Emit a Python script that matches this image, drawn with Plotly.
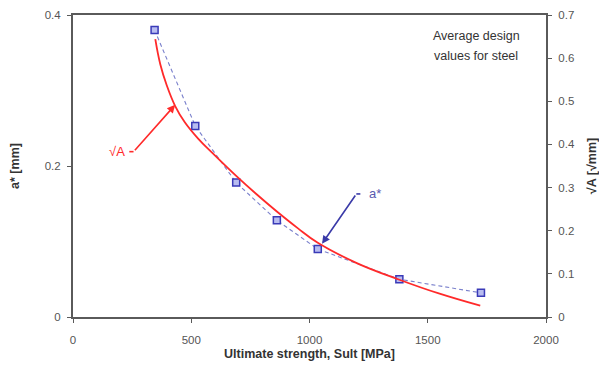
import plotly.graph_objects as go

# Average design values for steel
sult_points = [345, 517, 690, 862, 1035, 1380, 1725]        # MPa
a_star = [0.380, 0.253, 0.178, 0.128, 0.090, 0.050, 0.032]    # mm

# sqrt(A) curve read along the ultimate strength axis
sult_curve = [348, 369, 397, 432, 472, 530, 588, 690, 775, 862, 950, 1035, 1200, 1380, 1550, 1722]
sqrt_a = [0.644, 0.586, 0.536, 0.489, 0.452, 0.413, 0.381, 0.327, 0.285, 0.2445,
          0.206, 0.172, 0.125, 0.0864, 0.054, 0.0262]

x_ticks = [0, 500, 1000, 1500, 2000]
y1_ticks = [0, 0.2, 0.4]
y2_ticks = [0, 0.1, 0.2, 0.3, 0.4, 0.5, 0.6, 0.7]

FONT = "Liberation Sans, Arial, sans-serif"
AXIS = "#5a5a5a"
RED = "#ff2a2a"
BLUE = "#3a3aa8"

fig = go.Figure()

fig.add_trace(go.Scatter(
    x=sult_curve, y=sqrt_a, yaxis="y2", mode="lines",
    line=dict(color=RED, width=1.8, shape="spline", smoothing=1.2),
    name="√A", showlegend=False,
))

fig.add_trace(go.Scatter(
    x=sult_points, y=a_star, mode="lines+markers",
    line=dict(color="#7a80cc", width=1.1, dash="4px,3px"),
    marker=dict(symbol="square", size=7, color="#b8bcf0",
                line=dict(color="#3a3ab8", width=1.5)),
    name="a*", showlegend=False,
))

annotations = [
    # arrow to the sqrt(A) curve
    dict(x=432, y=0.281, ax=256, ay=0.219, xref="x", yref="y", axref="x", ayref="y",
         text="", showarrow=True, arrowhead=2, arrowsize=1, arrowwidth=1.6,
         arrowcolor=RED),
    dict(x=185, y=0.219, xref="x", yref="y", text="√A", showarrow=False,
         font=dict(family=FONT, size=13, color=RED)),
    # arrow to the a* series
    dict(x=1053, y=0.097, ax=1198, ay=0.163, xref="x", yref="y", axref="x", ayref="y",
         text="", showarrow=True, arrowhead=2, arrowsize=1, arrowwidth=1.6,
         arrowcolor=BLUE),
    dict(x=1275, y=0.164, xref="x", yref="y", text="a*", showarrow=False,
         font=dict(family=FONT, size=13, color="#5a5ab0")),
    dict(x=1704, y=0.372, xref="x", yref="y", text="Average design", showarrow=False,
         font=dict(family=FONT, size=12.5, color="#333333")),
    dict(x=1704, y=0.3455, xref="x", yref="y", text="values for steel", showarrow=False,
         font=dict(family=FONT, size=12.5, color="#333333")),
]

shapes = [
    dict(type="line", xref="x", yref="y", x0=238, x1=256, y0=0.219, y1=0.219,
         line=dict(color=RED, width=1.6)),
    dict(type="line", xref="x", yref="y", x0=1198, x1=1215, y0=0.163, y1=0.163,
         line=dict(color=BLUE, width=1.6)),
]

fig.update_layout(
    width=599, height=370,
    margin=dict(l=73, r=53, t=15, b=53),
    paper_bgcolor="white", plot_bgcolor="white",
    font=dict(family=FONT, size=11.5, color="#555555"),
    annotations=annotations, shapes=shapes,
    xaxis=dict(
        range=[0, 2000], tickvals=x_ticks, ticktext=[str(v) for v in x_ticks],
        showgrid=False, zeroline=False, showline=True, mirror=True,
        linecolor=AXIS, linewidth=2, ticks="outside", ticklen=4, tickcolor=AXIS,
        ticklabelstandoff=7, automargin=False,
        title=dict(text="<b>Ultimate strength, Sult [MPa]</b>", standoff=4,
                   font=dict(family=FONT, size=12.5, color="#333333")),
    ),
    yaxis=dict(
        range=[0, 0.4], tickvals=y1_ticks, ticktext=["0", "0.2", "0.4"],
        showgrid=False, zeroline=False, showline=True,
        linecolor=AXIS, linewidth=2, ticks="outside", ticklen=4, tickcolor=AXIS,
        ticklabelstandoff=4, automargin=False,
        title=dict(text="<b>a* [mm]</b>", standoff=22,
                   font=dict(family=FONT, size=12.5, color="#333333")),
    ),
    yaxis2=dict(
        range=[0, 0.7], tickvals=y2_ticks, ticktext=["0"] + [f"{v:.1f}" for v in y2_ticks[1:]],
        overlaying="y", side="right",
        showgrid=False, zeroline=False, showline=True,
        linecolor=AXIS, linewidth=2, ticks="outside", ticklen=4, tickcolor=AXIS,
        ticklabelstandoff=4, automargin=False,
        title=dict(text="<b>√A [√mm]</b>", standoff=14,
                   font=dict(family=FONT, size=12.5, color="#333333")),
    ),
)

fig.write_html("out.html")
